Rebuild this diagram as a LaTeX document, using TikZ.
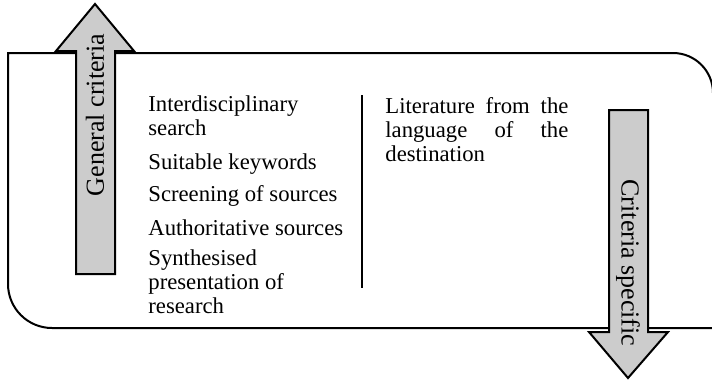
\documentclass[tikz,border=0pt]{standalone}
\usepackage{fontspec}
\setmainfont{Liberation Serif}

\begin{document}
\begin{tikzpicture}[x=0.5pt,y=-0.5pt,
  frame/.style={line width=1pt},
  bigarrow/.style={draw,line width=1pt,fill=gray!40,line join=miter},
  item/.style={anchor=base west,align=left,inner sep=0pt,
    font=\fontsize{11.35}{11.8}\selectfont},
  armtext/.style={inner sep=0pt,font=\fontsize{13}{15}\selectfont}]
  \useasboundingbox (0,0) rectangle (712,381);
  \draw[frame] (8,53) -- (673,53) arc[start angle=90,end angle=0,radius=20pt]
    -- (713,328) -- (52,328) arc[start angle=270,end angle=180,radius=22pt] -- cycle;
  \draw[bigarrow] (76,274) -- (76,51) -- (56,51) -- (95,4) -- (134,51)
    -- (115,51) -- (115,274) -- cycle;
  \draw[bigarrow] (609,110) -- (609,332) -- (589,332) -- (628,378) -- (668,332)
    -- (648,332) -- (648,110) -- cycle;
  \node[armtext,rotate=90] (general) at (95,115) {General criteria};
  \node[armtext,rotate=-90] (specific) at (628,263) {Criteria specific};
  \node[item] (search) at (148,135) {Interdisciplinary\\search};
  \node[item] (keywords) at (148,169) {Suitable keywords};
  \node[item] (screening) at (148,201.5) {Screening of sources};
  \node[item] (authority) at (148,235) {Authoritative sources};
  \node[item] (synthesis) at (148,313) {Synthesised\\presentation of\\research};
  \node[item] (language) at (385,161)
    {\makebox[91.5pt][s]{Literature from the}\\
     \makebox[91.5pt][s]{language of the}\\destination};
  \draw[frame] (362,95) -- (362,288);
\end{tikzpicture}
\end{document}
